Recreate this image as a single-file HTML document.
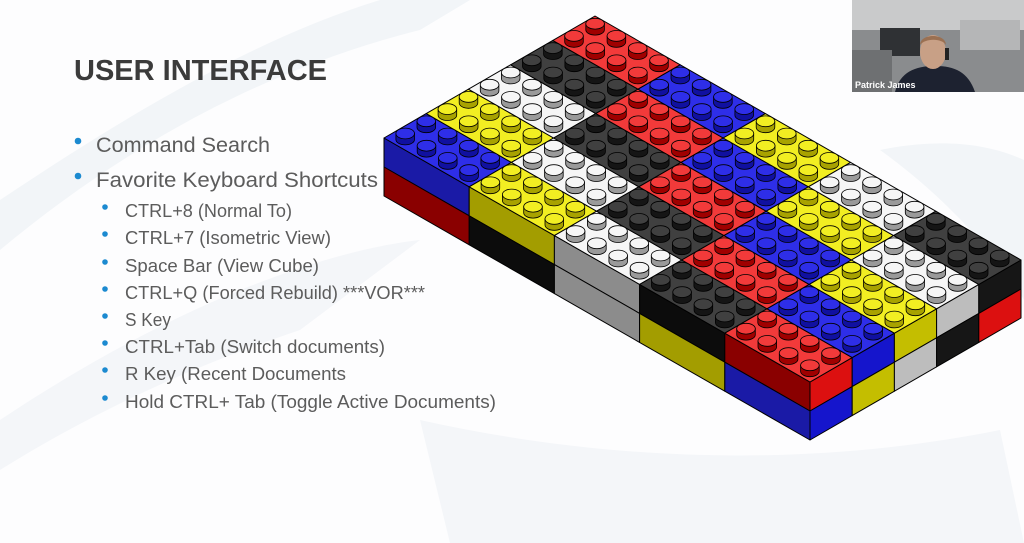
<!DOCTYPE html>
<html><head><meta charset="utf-8"><style>
html,body{margin:0;padding:0;background:#fff;}
svg{display:block;}
</style></head><body>
<svg id="s" width="1024" height="543" viewBox="0 0 1024 543" xmlns="http://www.w3.org/2000/svg">
<rect width="1024" height="543" fill="#fdfdfe"/>
<path d="M0,250 C120,150 260,70 420,30 L470,0 L380,0 C250,40 120,120 0,200 Z" fill="#f2f5f8"/>
<path d="M0,420 C180,300 330,250 420,240 L300,330 C180,370 80,420 0,470 Z" fill="#f4f6f9"/>
<path d="M420,420 C600,460 800,470 1000,430 L1024,543 L450,543 Z" fill="#f4f6f9"/>
<path d="M880,150 C950,200 1000,260 1024,300 L1024,160 C980,140 930,140 880,150 Z" fill="#f2f5f8"/>
<g font-family="'Liberation Sans', sans-serif">
<text x="74" y="80" font-size="29" font-weight="bold" fill="#3b3b3b" textLength="253" lengthAdjust="spacingAndGlyphs">USER INTERFACE</text>
<g fill="#1c8ad0"><circle cx="78" cy="141" r="3.3"/><circle cx="78" cy="176" r="3.3"/>
<circle cx="105" cy="207" r="2.8"/><circle cx="105" cy="234" r="2.8"/><circle cx="105" cy="262" r="2.8"/><circle cx="105" cy="289" r="2.8"/><circle cx="105" cy="316" r="2.8"/><circle cx="105" cy="343" r="2.8"/><circle cx="105" cy="370" r="2.8"/><circle cx="105" cy="398" r="2.8"/></g>
<g fill="#5c5c5c">
<text x="96" y="152" font-size="21" textLength="174" lengthAdjust="spacingAndGlyphs">Command Search</text>
<text x="96" y="187" font-size="21" textLength="282" lengthAdjust="spacingAndGlyphs">Favorite Keyboard Shortcuts</text>
<g font-size="18">
<text x="125" y="217" textLength="167" lengthAdjust="spacingAndGlyphs">CTRL+8 (Normal To)</text>
<text x="125" y="244" textLength="206" lengthAdjust="spacingAndGlyphs">CTRL+7 (Isometric View)</text>
<text x="125" y="272" textLength="194" lengthAdjust="spacingAndGlyphs">Space Bar (View Cube)</text>
<text x="125" y="299" textLength="300" lengthAdjust="spacingAndGlyphs">CTRL+Q (Forced Rebuild) ***VOR***</text>
<text x="125" y="326" textLength="46" lengthAdjust="spacingAndGlyphs">S Key</text>
<text x="125" y="353" textLength="260" lengthAdjust="spacingAndGlyphs">CTRL+Tab (Switch documents)</text>
<text x="125" y="380" textLength="221" lengthAdjust="spacingAndGlyphs">R Key (Recent Documents</text>
<text x="125" y="408" textLength="371" lengthAdjust="spacingAndGlyphs">Hold CTRL+ Tab (Toggle Active Documents)</text>
</g></g></g>
<g id="lego"></g>
<g>
<rect x="852" y="0" width="172" height="92" fill="#8a8c8e"/>
<rect x="852" y="0" width="172" height="30" fill="#c9cacb"/>
<rect x="880" y="28" width="40" height="28" fill="#2f3134"/>
<rect x="960" y="20" width="60" height="30" fill="#b5b6b7"/>
<rect x="852" y="50" width="40" height="42" fill="#6e7072"/>
<path d="M895,92 C900,72 915,66 935,66 C955,66 968,72 975,92 Z" fill="#1d2230"/>
<ellipse cx="933" cy="52" rx="13" ry="17" fill="#c8a086"/>
<path d="M920,45 C920,33 946,33 946,45 C942,38 925,38 920,45 Z" fill="#9a7052"/>
<rect x="945" y="48" width="4" height="12" fill="#222"/>
<text x="855" y="88" font-family="'Liberation Sans', sans-serif" font-size="9" font-weight="bold" fill="#fff">Patrick James</text>
</g>
</svg>
<script>
(function(){
var NS="http://www.w3.org/2000/svg",g=document.getElementById("lego");
var L=[384,138],u=[21.1,-12.2],v=[21.3,12.2],H=29;
function P(a,b,z){return [L[0]+a*u[0]+b*v[0],L[1]+a*u[1]+b*v[1]+(z||0)];}
var C={B:{t:"#2e2ee8",l:"#1a1aa6",r:"#1515cc",s:"#1010a0"},
Y:{t:"#f2ee22",l:"#a39d00",r:"#c4be00",s:"#a8a200"},
W:{t:"#f6f6f6",l:"#8c8c8c",r:"#bdbdbd",s:"#9a9a9a"},
K:{t:"#404040",l:"#0c0c0c",r:"#161616",s:"#151515"},
R:{t:"#f23a3a",l:"#8a0000",r:"#dc1010",s:"#a00000"}};
var seq=["B","Y","W","K","R"];
function el(n,at){var e=document.createElementNS(NS,n);for(var k in at)e.setAttribute(k,at[k]);g.appendChild(e);return e;}
function poly(pts,fill){el("polygon",{points:pts.map(function(p){return p[0].toFixed(1)+","+p[1].toFixed(1)}).join(" "),fill:fill,stroke:"#000","stroke-width":"1","stroke-linejoin":"round"});}
var lowL=["R","K","W","Y","B"],lowR=["B","Y","W","K","R"];
for(var k=0;k<5;k++){
 poly([P(0,4*k,0),P(0,4*k+4,0),P(0,4*k+4,H),P(0,4*k,H)],C[seq[k]].l);
 poly([P(0,4*k,H),P(0,4*k+4,H),P(0,4*k+4,2*H),P(0,4*k,2*H)],C[lowL[k]].l);
}
for(var r=0;r<5;r++){
 poly([P(2*r,20,0),P(2*r+2,20,0),P(2*r+2,20,H),P(2*r,20,H)],C[seq[(r+4)%5]].r);
 poly([P(2*r,20,H),P(2*r+2,20,H),P(2*r+2,20,2*H),P(2*r,20,2*H)],C[lowR[r]].r);
}
var studs=[];
for(var r=0;r<5;r++)for(var k=0;k<5;k++){
 var c=C[seq[(r+k)%5]];
 poly([P(2*r,4*k),P(2*r+2,4*k),P(2*r+2,4*k+4),P(2*r,4*k+4)],c.t);
 for(var i=0;i<2;i++)for(var j=0;j<4;j++){studs.push({p:P(2*r+i+0.5,4*k+j+0.5),c:c});}
}
studs.sort(function(a,b){return a.p[1]-b.p[1];});
var rx=9.3,ry=5.4,h=6;
studs.forEach(function(s){
 var x=s.p[0],y=s.p[1]+1.5;
 el("path",{d:"M"+(x-rx)+","+(y-h)+" L"+(x-rx)+","+y+" A"+rx+","+ry+" 0 0 0 "+(x+rx)+","+y+" L"+(x+rx)+","+(y-h)+" Z",fill:s.c.s,stroke:"#000","stroke-width":"0.8"});
 el("ellipse",{cx:x,cy:y-h,rx:rx,ry:ry,fill:s.c.t,stroke:"#000","stroke-width":"0.8"});
});
})();
</script>
</body></html>
